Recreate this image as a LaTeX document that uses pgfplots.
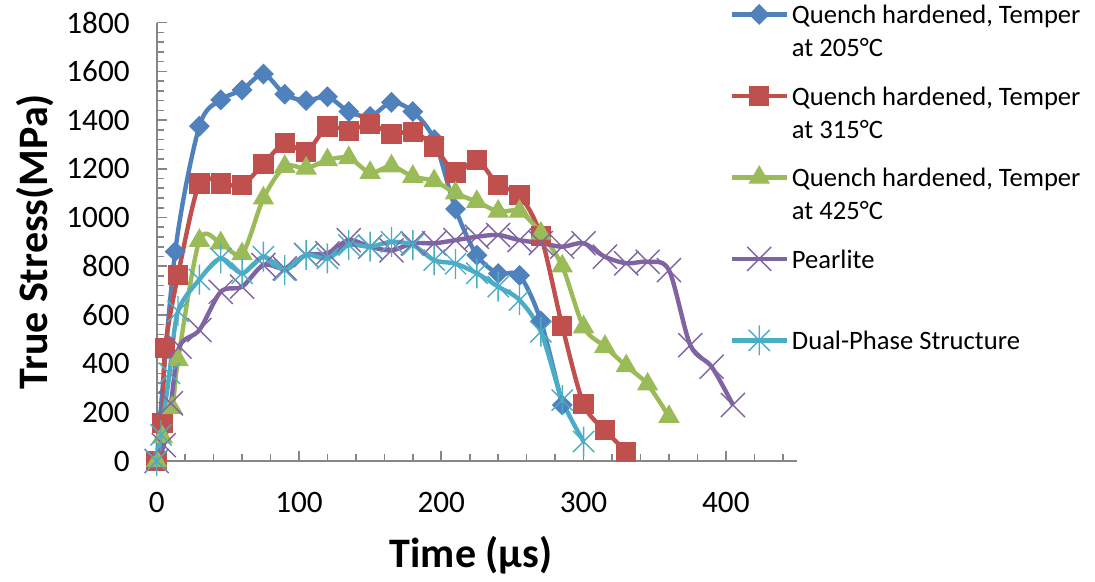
\documentclass[border=0pt]{standalone}
\usepackage{pgfplots}
\pgfplotsset{compat=1.18}
\usepackage{fontspec}
\setmainfont{Carlito}
\definecolor{axgray}{HTML}{868686}
\definecolor{sblue}{HTML}{4F81BD}
\definecolor{sred}{HTML}{C0504D}
\definecolor{sgreen}{HTML}{9BBB59}
\definecolor{spurple}{HTML}{8064A2}
\definecolor{saqua}{HTML}{4BACC6}
\pgfdeclareplotmark{xstar}{%
  \pgfpathmoveto{\pgfqpoint{0pt}{-\pgfplotmarksize}}%
  \pgfpathlineto{\pgfqpoint{0pt}{\pgfplotmarksize}}%
  \pgfpathmoveto{\pgfqpoint{-.7071\pgfplotmarksize}{-.7071\pgfplotmarksize}}%
  \pgfpathlineto{\pgfqpoint{.7071\pgfplotmarksize}{.7071\pgfplotmarksize}}%
  \pgfpathmoveto{\pgfqpoint{-.7071\pgfplotmarksize}{.7071\pgfplotmarksize}}%
  \pgfpathlineto{\pgfqpoint{.7071\pgfplotmarksize}{-.7071\pgfplotmarksize}}%
  \pgfusepathqstroke}
\newcommand{\lgt}[2]{\begin{tabular}[t]{@{}l@{}}#1\\#2\end{tabular}}
\begin{document}
\begin{tikzpicture}
\useasboundingbox (0,0) rectangle (547.5bp,291bp);
\begin{axis}[
  at={(78.35bp,60.5bp)}, anchor=south west,
  scale only axis, width=320.15bp, height=219.15bp,
  xmin=0, xmax=450, ymin=0, ymax=1800,
  enlargelimits=false, clip=false,
  axis lines=left,
  axis line style={-, draw=axgray, line width=0.9bp},
  xtick={0,100,...,500}, ytick={0,200,...,1800},
  minor x tick num=4, minor y tick num=4,
  tick align=inside, major tick length=5bp, minor tick length=3.5bp,
  every tick/.style={draw=axgray, line width=0.8bp},
  /pgf/number format/assume math mode=true,
  /pgf/number format/1000 sep={},
  xticklabel style={font=\fontsize{15.6bp}{18bp}\selectfont, yshift=-12bp},
  yticklabel style={font=\fontsize{15.6bp}{18bp}\selectfont, xshift=-10bp},
  xlabel={Time (µs)},
  ylabel={True Stress(MPa)},
  every axis x label/.style={at={(axis description cs:0.491,0)}, anchor=center, yshift=-47bp, font=\fontsize{21bp}{25bp}\selectfont\bfseries},
  every axis y label/.style={at={(axis description cs:0,0.5)}, rotate=90, anchor=center, yshift=60.85bp, font=\fontsize{21bp}{25bp}\selectfont\bfseries},
  legend style={draw=none, fill=none, at={(rel axis cs:0.894,1.0585)}, anchor=north west,
    font=\fontsize{13.3bp}{16.5bp}\selectfont, row sep=4.75bp, inner sep=0pt,
    nodes={inner sep=1.5bp, text height=11.55bp, text depth=21.45bp}},
  legend cell align=left,
  legend image code/.code={\draw[mark repeat=2,mark phase=2,#1] plot coordinates {(0bp,9.5bp) (13.75bp,9.5bp) (27.5bp,9.5bp)};},
  every axis plot/.append style={line width=2.2bp, smooth, tension=0.5},
]
\addplot[color=sblue, mark=diamond*, mark size=4.8bp, mark options={solid, xscale=1.33, line width=0.6bp}] coordinates {
(0,0) (13,860) (30,1375) (45,1483) (60,1524) (75,1589) (90,1506) (105,1480) (120,1496) (135,1435) (150,1415) (165,1473) (180,1435) (195,1320) (210,1035) (225,845) (240,770) (255,762) (270,575) (285,230)};
\addlegendentry{\lgt{Quench hardened, Temper}{at 205°C}}
\addplot[color=sred, mark=square*, mark size=4.8bp, mark options={solid, line width=0.6bp}] coordinates {
(0,0) (4,155) (6,465) (15,765) (30,1140) (45,1140) (60,1133) (75,1220) (90,1305) (105,1270) (120,1373) (135,1356) (150,1384) (165,1343) (180,1352) (195,1291) (210,1184) (225,1236) (240,1133) (255,1092) (270,925) (285,554) (300,234) (315,127) (330,38)};
\addlegendentry{\lgt{Quench hardened, Temper}{at 315°C}}
\addplot[color=sgreen, mark=triangle*, mark size=5.6bp, mark options={solid, line width=0.6bp}] coordinates {
(0,0) (4,98) (11,218) (15,415) (30,905) (45,895) (60,850) (75,1079) (90,1209) (105,1202) (120,1236) (135,1245) (150,1184) (165,1211) (180,1168) (195,1150) (210,1100) (225,1065) (240,1025) (255,1025) (270,935) (285,800) (300,550) (315,470) (330,390) (345,315) (360,182)};
\addlegendentry{\lgt{Quench hardened, Temper}{at 425°C}}
\addplot[color=spurple, mark=x, mark size=8.5bp, mark options={solid, line width=0.7bp}] coordinates {
(0,0) (5,65) (10,237) (16,470) (30,538) (45,695) (60,716) (75,805) (90,791) (105,846) (120,853) (135,907) (150,880) (165,865) (180,894) (195,894) (210,907) (225,921) (240,928) (255,907) (270,895) (285,880) (300,894) (315,839) (330,812) (345,818) (360,784) (375,476) (390,387) (405,230)};
\addlegendentry{Pearlite}
\addplot[color=saqua, mark=xstar, mark size=7.5bp, mark options={solid, line width=0.7bp}] coordinates {
(0,0) (3,107) (9,360) (15,615) (30,745) (45,832) (60,771) (75,839) (90,784) (105,846) (120,832) (135,887) (150,880) (165,900) (180,887) (195,825) (210,810) (225,771) (240,716) (255,661) (270,531) (285,250) (300,80)};
\addlegendentry{Dual-Phase Structure}
\end{axis}
\end{tikzpicture}
\end{document}
